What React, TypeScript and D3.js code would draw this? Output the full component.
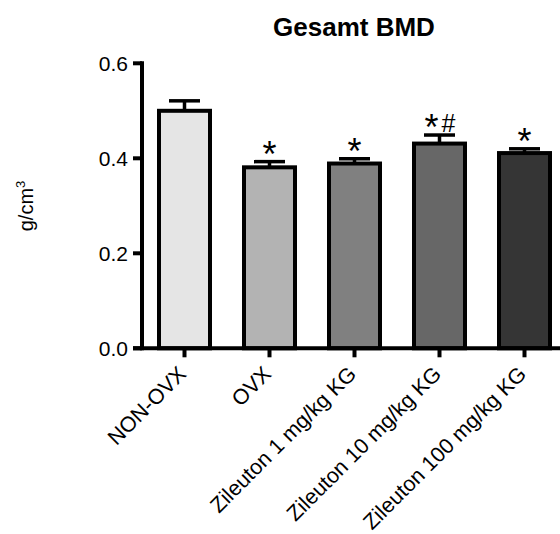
import React from "react";
import * as d3 from "d3";

// Gesamt BMD - bar chart with error bars
const groups = ["NON-OVX", "OVX", "Zileuton 1 mg/kg KG", "Zileuton 10 mg/kg KG", "Zileuton 100 mg/kg KG"];
const means = [0.5, 0.381, 0.389, 0.431, 0.411];
const errs = [0.021, 0.012, 0.01, 0.018, 0.009];
const stars = ["", "*", "*", "*", "*"];
const hashes = ["", "", "", "#", ""];
const fills = ["#e5e5e5", "#b3b3b3", "#808080", "#676767", "#353535"];
const yTicks = [0, 0.2, 0.4, 0.6];

const W = 560;
const H = 534;
const axisX = 142;

export default function App() {
  const x = d3.scaleBand<string>().domain(groups).range([axisX, axisX + 425]).paddingInner(0.4).paddingOuter(0.2);
  const y = d3.scaleLinear().domain([0, 0.6]).range([348.3, 63.3]);
  const font = "'Liberation Sans', Arial, sans-serif";
  const bw = x.bandwidth();

  return (
    <svg width={W} height={H} style={{ position: "absolute", left: 0, top: 0 }} fontFamily={font}>
      <rect x={0} y={0} width={W} height={H} fill="#fff" />
      <text x={354} y={36} textAnchor="middle" fontWeight="bold" fontSize={26}>Gesamt BMD</text>

      {/* y label */}
      <text transform="translate(33,206) rotate(-90)" textAnchor="middle" fontSize={20}>
        g/cm<tspan dy={-8} fontSize={13}>3</tspan>
      </text>

      {/* bars */}
      {groups.map((g, i) => {
        const cx = (x(g) as number) + bw / 2;
        const top = y(means[i] + errs[i]);
        const hasHash = hashes[i] !== "";
        return (
          <g key={g}>
            <line x1={cx} x2={cx} y1={y(means[i])} y2={top} stroke="#000" strokeWidth={3.5} />
            <line x1={cx - 15.5} x2={cx + 15.5} y1={top} y2={top} stroke="#000" strokeWidth={3.5} />
            <rect x={x(g)} y={y(means[i])} width={bw} height={y(0) - y(means[i])} fill={fills[i]} stroke="#000" strokeWidth={4} />
            {stars[i] && (
              <text x={hasHash ? cx - 8 : cx} y={top + 5} textAnchor="middle" fontSize={36}>{stars[i]}</text>
            )}
            {hasHash && (
              <text x={cx + 9} y={top - 3} textAnchor="middle" fontSize={25}>{hashes[i]}</text>
            )}
          </g>
        );
      })}

      {/* y axis */}
      <line x1={axisX} x2={axisX} y1={y(0) + 2} y2={y(0.6) - 2} stroke="#000" strokeWidth={4} />
      {yTicks.map((t) => (
        <g key={t}>
          <line x1={axisX - 9} x2={axisX} y1={y(t)} y2={y(t)} stroke="#000" strokeWidth={4} />
          <text x={axisX - 14} y={y(t)} dy="0.36em" textAnchor="end" fontSize={21}>{d3.format(".1f")(t)}</text>
        </g>
      ))}

      {/* x axis */}
      <line x1={axisX - 9} x2={W} y1={y(0)} y2={y(0)} stroke="#000" strokeWidth={4} />
      {groups.map((g) => {
        const cx = (x(g) as number) + bw / 2;
        return (
          <g key={g}>
            <line x1={cx} x2={cx} y1={y(0)} y2={y(0) + 9} stroke="#000" strokeWidth={4} />
            <text transform={`translate(${cx + 3},${y(0) + 27}) rotate(-45)`} textAnchor="end" fontSize={21.5}>{g}</text>
          </g>
        );
      })}
    </svg>
  );
}
